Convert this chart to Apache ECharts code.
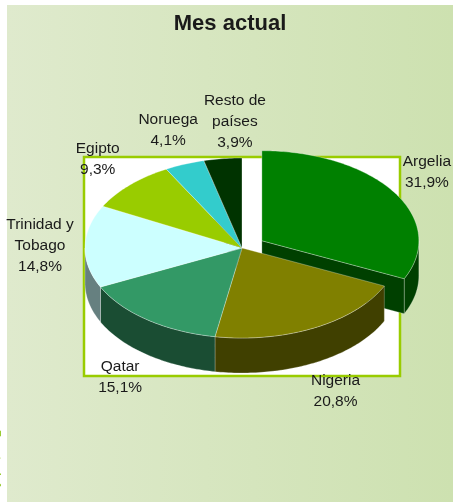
<!DOCTYPE html>
<html>
<head>
<meta charset="utf-8">
<style>
html,body{margin:0;padding:0;background:#fff;}
#main{width:453px;height:502px;}
</style>
<script src="https://cdn.jsdelivr.net/npm/echarts@6/dist/echarts.min.js"></script>
</head>
<body>
<div id="main"></div>
<script>
var paises = ['Argelia','Nigeria','Qatar','Trinidad y\nTobago','Egipto','Noruega','Resto de\npaíses'];
var cuotas = [31.9,20.8,15.1,14.8,9.3,4.1,3.9];
var separada = [true,false,false,false,false,false,false];
var colores = ['#008000','#808000','#339966','#ccffff','#99cc00','#33cccc','#003300'];

// geometria de la tarta 3D
var CX = 242, CY = 248, RX = 157, RY = 90, ALTO = 35, EXPL = 0.15;
var FUENTE = '15.5px "Liberation Sans", Arial, sans-serif';
var LH = 21;

var total = 0;
cuotas.forEach(function(v){ total += v; });
var ini = [], fin = [];
var acum = 0;
cuotas.forEach(function(v){
	ini.push(acum / total * Math.PI * 2);
	acum += v;
	fin.push(acum / total * Math.PI * 2);
});

function oscuro(hex){
	var c = echarts.color.parse(hex);
	return 'rgb(' + Math.round(c[0] * 0.5) + ',' + Math.round(c[1] * 0.5) + ',' + Math.round(c[2] * 0.5) + ')';
}
function centro(i){
	var m = (ini[i] + fin[i]) / 2;
	if(separada[i]){
		return [CX + EXPL * RX * Math.sin(m), CY - EXPL * RY * Math.cos(m)];
	}
	return [CX, CY];
}
function borde(c, a, dy){
	return [c[0] + RX * Math.sin(a), c[1] - RY * Math.cos(a) + (dy || 0)];
}
function arco(c, a0, a1, dy){
	var pts = [];
	var n = Math.max(2, Math.ceil((a1 - a0) / (Math.PI / 180)));
	for(var k = 0; k <= n; k++){
		pts.push(borde(c, a0 + (a1 - a0) * k / n, dy));
	}
	return pts;
}
function etiqueta(i){
	return paises[i] + '\n' + cuotas[i].toFixed(1).replace('.', ',') + '%';
}

// posicion de las etiquetas
var medida = document.createElement('canvas').getContext('2d');
medida.font = FUENTE;
var etiq = [];
for(var i = 0; i < cuotas.length; i++){
	var m = (ini[i] + fin[i]) / 2;
	var c = centro(i);
	var x = c[0] + (RX + 45) * Math.sin(m);
	var y = c[1] - (RY + 37) * Math.cos(m) + (Math.cos(m) < 0 ? -Math.cos(m) * ALTO : 0);
	var lineas = etiqueta(i).split('\n');
	var w = 0;
	lineas.forEach(function(l){ w = Math.max(w, medida.measureText(l).width); });
	var h = lineas.length * LH;
	if(i > 0 && Math.cos(m) > 0){
		var p = etiq[i - 1];
		var solX = (p.x + p.w / 2) - (x - w / 2);
		var solY = Math.min(p.y + p.h / 2, y + h / 2) - Math.max(p.y - p.h / 2, y - h / 2);
		if(solX > 0 && solY > 0){ x += solX + 6; }
	}
	// dentro del lienzo
	x = Math.min(x, 451 - w / 2);
	x = Math.max(x, 4 + w / 2);
	etiq.push({x: x, y: y, w: w, h: h});
}

function renderPorcion(params, api){
	var i = params.dataIndex;
	var a0 = ini[i], a1 = fin[i];
	var c = centro(i);
	var base = colores[i];
	var lado = oscuro(base);
	var z = separada[i] ? 0 : 10;
	var hijos = [];
	var linea = 'rgba(255,255,255,0.5)';

	// pared exterior (solo la parte delantera)
	var w0 = Math.max(a0, Math.PI / 2), w1 = Math.min(a1, Math.PI * 3 / 2);
	if(w1 > w0){
		var pts = arco(c, w0, w1, 0).concat(arco(c, w0, w1, ALTO).reverse());
		hijos.push({type: 'polygon', z2: z + 1, shape: {points: pts},
			style: {fill: lado, stroke: linea, lineWidth: 0.5}});
	}
	// caras de corte junto al hueco
	var prev = (i + cuotas.length - 1) % cuotas.length, next = (i + 1) % cuotas.length;
	var hueco = separada[i] || separada[prev] || separada[next];
	if(hueco){
		[[a0, Math.sin(a0) < -1e-6], [a1, Math.sin(a1) > 1e-6]].forEach(function(d){
			if(!d[1]) return;
			var b = borde(c, d[0], 0);
			var pts = [c, b, [b[0], b[1] + ALTO], [c[0], c[1] + ALTO]];
			hijos.push({type: 'polygon', z2: z + 1, shape: {points: pts},
				style: {fill: lado, stroke: linea, lineWidth: 0.5}});
		});
	}
	// cara superior
	var sup = [c].concat(arco(c, a0, a1, 0));
	hijos.push({type: 'polygon', z2: z + 2, shape: {points: sup},
		style: {fill: base, stroke: linea, lineWidth: 0.6}});
	// etiqueta
	var e = etiq[i];
	hijos.push({type: 'text', z2: 30, style: {
		text: etiqueta(i), x: e.x, y: e.y, align: 'center', verticalAlign: 'middle',
		font: FUENTE, fill: '#1a1a1a', lineHeight: LH
	}});
	return {type: 'group', children: hijos};
}

var myChart = echarts.init(document.getElementById('main'), null, {renderer: 'canvas'});
var option = {
	animation: false,
	backgroundColor: '#ffffff',
	graphic: [
		{type: 'rect', z: -10, shape: {x: 7, y: 5, width: 446, height: 497},
			style: {fill: new echarts.graphic.LinearGradient(0, 0, 1, 0, [
				{offset: 0, color: '#dfeacd'}, {offset: 1, color: '#cde1b0'}])}},
		{type: 'text', z: -9, x: 1.5, y: 430, rotation: -Math.PI / 2,
			style: {text: 'Fuente: informes mensuales - Ins', font: 'bold 11px "Liberation Sans", Arial, sans-serif',
				fill: '#9c3', align: 'left', verticalAlign: 'top'}},
		{type: 'rect', z: -5, shape: {x: 84, y: 157, width: 316, height: 219},
			style: {fill: '#ffffff', stroke: '#99cc00', lineWidth: 2.5}},
		{type: 'text', x: 230, y: 24,
			style: {text: 'Mes actual', font: 'bold 22px "Liberation Sans", Arial, sans-serif',
				fill: '#1a1a1a', align: 'center', verticalAlign: 'middle'}}
	],
	series: [{
		type: 'custom',
		coordinateSystem: 'none',
		renderItem: renderPorcion,
		data: cuotas.map(function(v, i){ return {name: paises[i], value: [v]}; })
	}]
};
myChart.setOption(option);
</script>
</body>
</html>
